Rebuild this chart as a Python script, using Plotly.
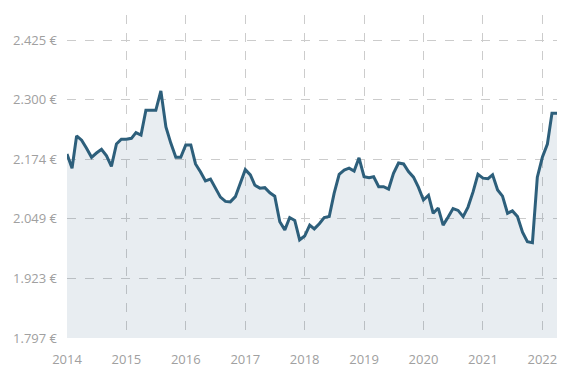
import plotly.graph_objects as go
import pandas as pd

dates = pd.date_range("2014-01-01", periods=100, freq="MS")
values = [
    2185, 2155, 2223, 2214, 2197, 2178, 2187, 2195, 2181, 2159, 2206, 2216,
    2216, 2218, 2230, 2225, 2277, 2277, 2277, 2318, 2242, 2208, 2178, 2178,
    2204, 2204, 2164, 2147, 2128, 2132, 2113, 2094, 2085, 2084, 2095, 2124,
    2152, 2141, 2119, 2113, 2114, 2103, 2096, 2042, 2025, 2051, 2045, 2004,
    2012, 2035, 2027, 2038, 2051, 2053, 2102, 2142, 2151, 2155, 2149, 2177,
    2137, 2135, 2137, 2116, 2116, 2111, 2144, 2166, 2164, 2148, 2136, 2115,
    2088, 2098, 2060, 2071, 2035, 2052, 2070, 2066, 2053, 2073, 2105, 2142,
    2134, 2133, 2141, 2109, 2096, 2060, 2065, 2053, 2020, 2000, 1998, 2136,
    2178, 2206, 2271, 2271,
]
tick_vals = [1797, 1923, 2049, 2174, 2300, 2425]
tick_text = ["1.797 €", "1.923 €", "2.049 €", "2.174 €", "2.300 €", "2.425 €"]

fig = go.Figure()
fig.add_trace(go.Scatter(
    x=dates, y=values, mode="lines",
    line=dict(color="#2d5f7b", width=3),
    fill="tozeroy", fillcolor="rgba(44,95,123,0.11)",
    hoverinfo="skip",
))

grid = "#cccccc"
label_font = dict(family="Open Sans, sans-serif", size=13, color="#a0a0a0")
fig.update_layout(
    width=586, height=391,
    margin=dict(l=67, r=29, t=15, b=53),
    paper_bgcolor="white", plot_bgcolor="white",
    showlegend=False,
    font=label_font,
    xaxis=dict(
        range=[dates[0], dates[-1]],
        tickformat="%Y", dtick="M12", tick0="2014-01-01",
        showgrid=True, gridcolor=grid, griddash="dash", gridwidth=1,
        showline=False, zeroline=False, ticks="",
        ticklabelstandoff=12,
        tickfont=label_font,
    ),
    yaxis=dict(
        range=[1797, 2478],
        tickvals=tick_vals, ticktext=tick_text,
        showgrid=True, gridcolor=grid, griddash="dash", gridwidth=1,
        showline=False, zeroline=False, ticks="",
        ticklabelstandoff=9,
        tickfont=label_font,
    ),
)
fig.write_html(
    "out.html",
    config={"displayModeBar": False},
    post_script="document.body.style.margin='0';document.body.style.padding='0';",
)
